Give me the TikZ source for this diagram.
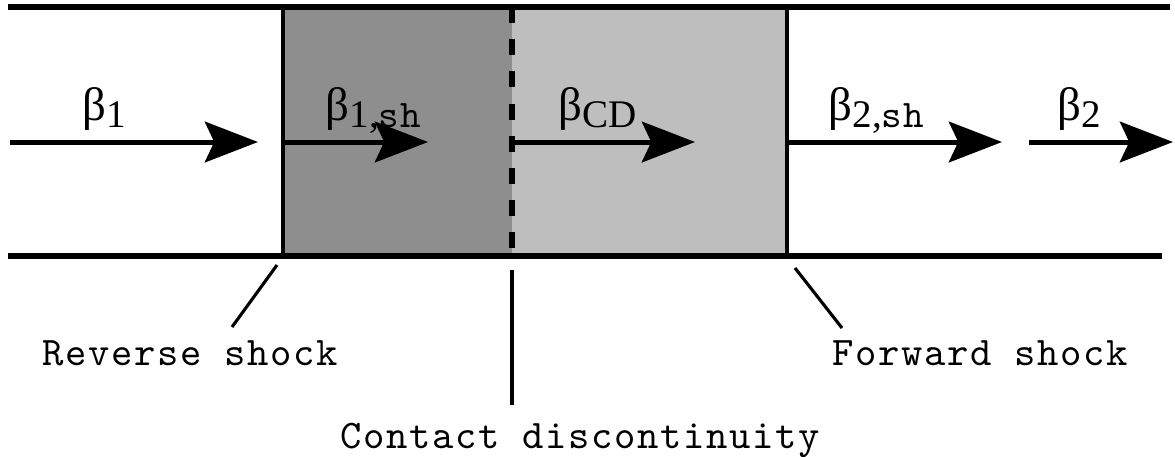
\documentclass[tikz,border=0pt]{standalone}
\usepackage{fontspec}
\setmainfont{Liberation Serif}
\setmonofont{lmmono10-regular.otf}[LetterSpace=4.1]
\usetikzlibrary{arrows.meta}

\definecolor{reversegray}{HTML}{8E8E8E}
\definecolor{forwardgray}{HTML}{BEBEBE}
\newcommand{\velsub}[1]{β\raisebox{-0.35ex}{\fontsize{12.5}{12.5}\selectfont #1}}

\begin{document}
\begin{tikzpicture}[x=0.32pt,y=-0.32pt]
    \tikzset{
        pipe/.style={line width=2pt},
        wall/.style={line width=1.3pt},
        flow/.style={line width=1.6pt,-{Stealth[length=17pt,width=13pt,inset=3pt]}},
        vel/.style={font=\fontsize{15}{18}\selectfont,inner sep=0pt,anchor=base west},
        tag/.style={font=\ttfamily\fontsize{13}{15}\selectfont,inner sep=0pt,anchor=base west},
        lead/.style={line width=1pt}
    }
    \useasboundingbox (0,0) rectangle (1175,456);
    \pgfmathsetmacro{\top}{7}
    \pgfmathsetmacro{\bot}{256}
    \pgfmathsetmacro{\mid}{142}
    % shocked shells
    \fill[reversegray] (283,\top) rectangle (512,\bot);
    \fill[forwardgray] (512,\top) rectangle (787,\bot);
    \coordinate (rs) at (283,\top);
    \coordinate (cd) at (512,\top);
    \coordinate (fs) at (787,\top);
    \draw[wall] (rs) -- (283,\bot);
    \draw[wall] (fs) -- (787,\bot);
    \draw[line width=1.9pt,dash pattern=on 5.1pt off 5.2pt] (cd) -- (512,\bot);
    \draw[pipe] (8,\top) -- (1170,\top);
    \draw[pipe] (8,\bot) -- (1162,\bot);
    % velocities
    \foreach \a/\b in {10/258,283/428,512/695,787/1002,1029/1173}{
        \draw[flow] (\a,\mid) -- (\b,\mid);
    }
    \node[vel] (b1) at (82,120) {\velsub{1}};
    \node[vel] (b1sh) at (325,120) {\velsub{1,\texttt{sh}}};
    \node[vel] (bcd) at (558,120) {\velsub{CD}};
    \node[vel] (b2sh) at (828,120) {\velsub{2,\texttt{sh}}};
    \node[vel] (b2) at (1057,120) {\velsub{2}};
    % labels
    \node[tag] (rev) at (42,365) {Reverse shock};
    \node[tag] (con) at (340,448) {Contact discontinuity};
    \node[tag] (fwd) at (832,365) {Forward shock};
    \coordinate (rev1) at (277,265);
    \coordinate (rev2) at (232,327);
    \coordinate (con1) at (512,270);
    \coordinate (con2) at (512,405);
    \coordinate (fwd1) at (795,268);
    \coordinate (fwd2) at (842,328);
    \draw[lead] (rev1) -- (rev2);
    \draw[lead] (con1) -- (con2);
    \draw[lead] (fwd1) -- (fwd2);
\end{tikzpicture}
\end{document}
